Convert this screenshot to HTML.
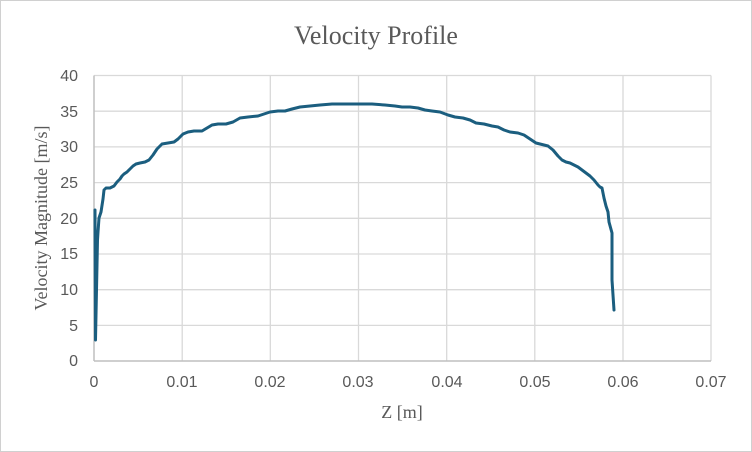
<!DOCTYPE html>
<html><head><style>body{margin:0;background:#fff}svg{display:block}</style></head><body>
<svg width="752" height="452" xmlns="http://www.w3.org/2000/svg">
<rect x="0.5" y="0.5" width="751" height="451" fill="#fff" stroke="#d0d0d0"/>
<text x="376" y="44" font-family="Liberation Serif, serif" font-size="26" fill="#595959" text-anchor="middle">Velocity Profile</text>
<g stroke="#d9d9d9" stroke-width="1.3">
<line x1="94" y1="75.5" x2="711" y2="75.5"/><line x1="94" y1="111.2" x2="711" y2="111.2"/><line x1="94" y1="146.9" x2="711" y2="146.9"/><line x1="94" y1="182.6" x2="711" y2="182.6"/><line x1="94" y1="218.3" x2="711" y2="218.3"/><line x1="94" y1="254" x2="711" y2="254"/><line x1="94" y1="289.7" x2="711" y2="289.7"/><line x1="94" y1="325.4" x2="711" y2="325.4"/>
<line x1="182.2" y1="75.5" x2="182.2" y2="361"/><line x1="270.3" y1="75.5" x2="270.3" y2="361"/><line x1="358.5" y1="75.5" x2="358.5" y2="361"/><line x1="446.7" y1="75.5" x2="446.7" y2="361"/><line x1="534.8" y1="75.5" x2="534.8" y2="361"/><line x1="623" y1="75.5" x2="623" y2="361"/><line x1="711" y1="75.5" x2="711" y2="361"/>
</g>
<line x1="94" y1="361" x2="711" y2="361" stroke="#bfbfbf" stroke-width="1.5"/>
<line x1="94" y1="75.5" x2="94" y2="361" stroke="#bfbfbf" stroke-width="1.5"/>
<g font-family="Liberation Sans, sans-serif" font-size="16" fill="#595959" text-anchor="end">
<text x="78" y="81">40</text><text x="78" y="117">35</text><text x="78" y="152">30</text><text x="78" y="188">25</text><text x="78" y="224">20</text><text x="78" y="259">15</text><text x="78" y="295">10</text><text x="78" y="331">5</text><text x="78" y="366">0</text>
</g>
<g font-family="Liberation Sans, sans-serif" font-size="16" fill="#595959" text-anchor="middle">
<text x="94" y="387">0</text><text x="182" y="387">0.01</text><text x="270" y="387">0.02</text><text x="358" y="387">0.03</text><text x="447" y="387">0.04</text><text x="535" y="387">0.05</text><text x="623" y="387">0.06</text><text x="711" y="387">0.07</text>
</g>
<text x="402" y="418" font-family="Liberation Serif, serif" font-size="18" fill="#595959" text-anchor="middle">Z [m]</text>
<text transform="translate(47,218) rotate(-90)" font-family="Liberation Serif, serif" font-size="18" fill="#595959" text-anchor="middle">Velocity Magnitude [m/s]</text>
<polyline fill="none" stroke="#1b5e7f" stroke-width="3" stroke-linejoin="round" stroke-linecap="round"
points="95,210 95.5,340 97.5,240 98,232 99,218 101,212 103,199 104,190 106,188 110,188 114,186 117,182 120,179 122,176 124,174 127,172 130,169 133,166 136,164 140,163 145,162 149,160 153,155 157,149 162,144 168,143 174,142 178,139 183,134 188,132 194,131 202,131 207,128 212,125 218,124 226,124 233,122 240,118 248,117 258,116 264,114 270,112 278,111 285,111 292,109 300,107 310,106 320,105 332,104 345,104 360,104 372,104 385,105 395,106 402,107 410,107 418,108 425,110 432,111 440,112 448,115 455,117 463,118 470,120 476,123 484,124 492,126 498,127 504,130 510,132 518,133 524,135 530,139 536,143 544,145 548,146 553,150 558,156 562,160 566,162 570,163 574,165 578,167 582,170 586,173 590,176 594,180 598,185 600,187 602,188 604,198 606,206 608,212 609,222 612,233 612,280 614,310"/>
</svg>
</body></html>
